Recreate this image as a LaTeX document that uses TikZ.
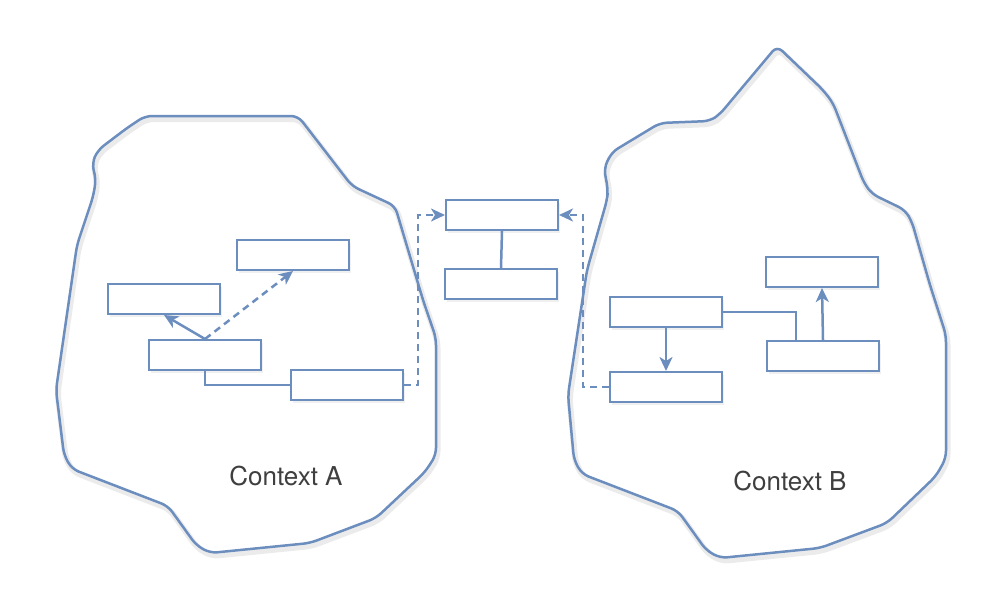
\documentclass[tikz,border=0pt]{standalone}
\usepackage{fontspec}
\setmainfont{TeX Gyre Heros}
\usepackage{tikz}
\usetikzlibrary{arrows.meta,shadows,positioning}

\definecolor{lineblue}{HTML}{6C8EBF}
\definecolor{labelgrey}{HTML}{3F3F3F}

\begin{document}
\begin{tikzpicture}[
  x=1pt, y=-1pt,
  ctx/.style={draw=lineblue, line width=2.5pt, rounded corners=7pt,
              preaction={draw=black, opacity=0.08, line width=6pt,
                         transform canvas={shift={(1.5pt,-3pt)}}}},
  box/.style={draw=lineblue, line width=2pt, fill=white, inner sep=0pt,
              minimum width=112pt, minimum height=30pt,
              drop shadow={shadow xshift=2pt, shadow yshift=-3pt, opacity=0.12}},
  lbl/.style={text=labelgrey, font=\fontsize{26}{30}\selectfont},
  arr/.style={draw=lineblue, line width=2.5pt, -{Stealth[length=14pt, width=13pt, inset=4pt]}},
  link/.style={draw=lineblue, line width=2.5pt},
  dashlink/.style={dash pattern=on 7pt off 5pt}
]
\useasboundingbox (0,0) rectangle (988,592);

% the two bounded contexts
\draw[ctx] (145,116) -- (298,116) -- (352,186) -- (395,206) -- (423,300) -- (436,338)
  -- (436,455) -- (425,472) -- (376,518) -- (310,543) -- (210,553) -- (196,545)
  -- (168,506) -- (72,469) -- (64,455) -- (56,390) -- (77,245) -- (93,197)
  -- (96,180) -- (92,163) -- (98,150) -- (127,128) -- cycle;
\draw[ctx] (777,46) -- (823,90) -- (833,103) -- (864,183) -- (872,194) -- (905,210)
  -- (912,222) -- (930,285) -- (946,335) -- (946,458) -- (936,476) -- (887,523)
  -- (820,548) -- (720,558) -- (706,550) -- (678,511) -- (582,474) -- (574,460)
  -- (568,395) -- (587,270) -- (607,200) -- (608,190) -- (604,168) -- (612,152)
  -- (660,123) -- (710,121) -- (720,114) -- cycle;

\node[lbl] (ctxa) at (286,476) {Context A};
\node[lbl] (ctxb) at (790,481) {Context B};

% context A
\node[box] (atop)  at (293,255) {};
\node[box] (aleft) at (164,299) {};
\node[box] (amid)  at (205,355) {};
\node[box] (aout)  at (347,385) {};

% shared kernel
\node[box] (shared)  at (502,215) {};
\node[box] (sharedb) at (501,284) {};

% context B
\node[box] (bin)    at (666,312) {};
\node[box] (bout)   at (666,387) {};
\node[box] (bup)    at (822,272) {};
\node[box] (bright) at (823,356) {};

\draw[arr] (amid.north) -- (aleft.south);
\draw[arr, dashlink] (amid.north) -- (atop.south);
\draw[link] (amid.south) |- (aout.west);
\draw[arr, dashlink] (aout.east) -- ++(14,0) |- (shared.west);

\draw[link] (shared.south) -- (sharedb.north);

\draw[arr, dashlink] (bout.west) -- ++(-26,0) |- (shared.east);
\draw[arr] (bin.south) -- (bout.north);
\draw[link] (bin.east) -| ([xshift=-27pt]bright.north);
\draw[arr] (bright.north) -- (bup.south);
\end{tikzpicture}
\end{document}
